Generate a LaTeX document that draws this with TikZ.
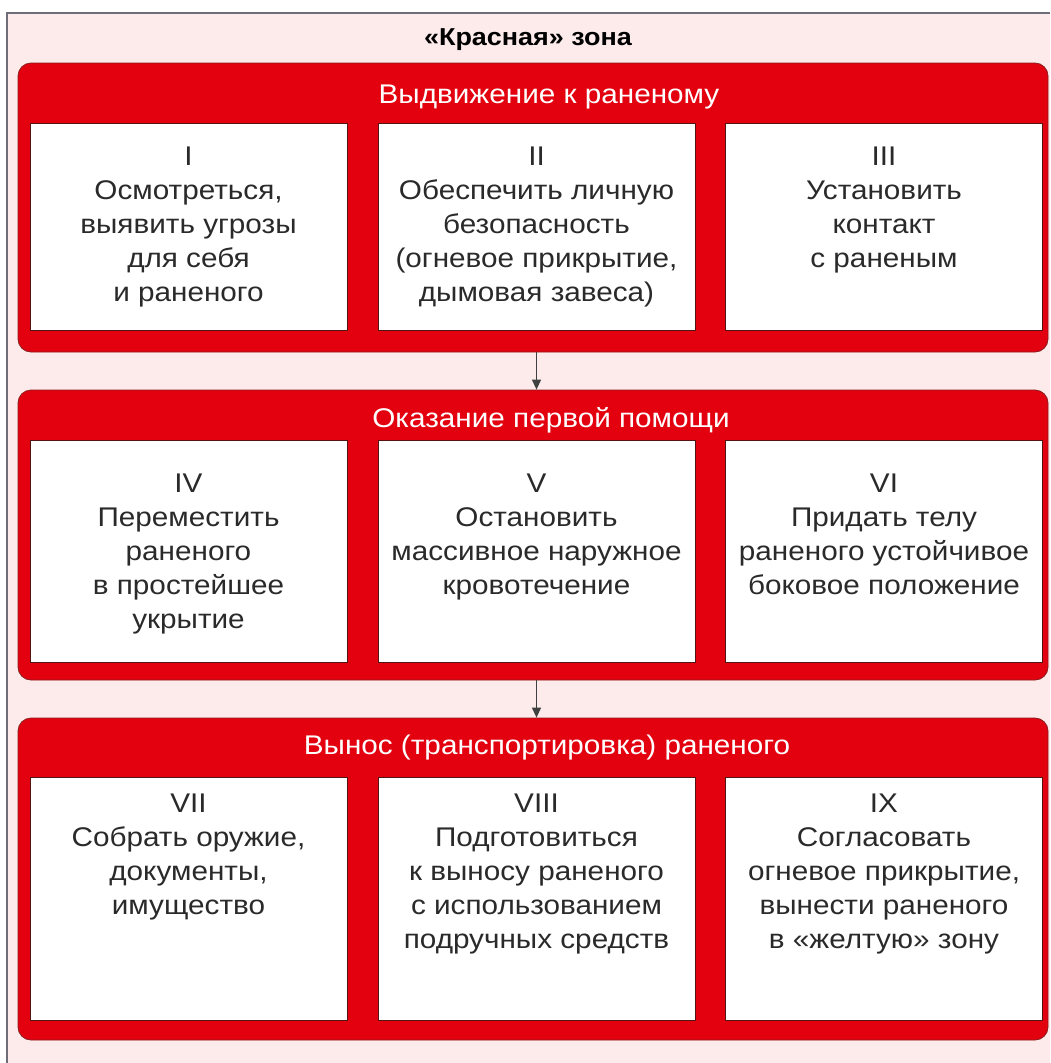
\documentclass[tikz,border=0pt]{standalone}
\usepackage{fontspec}
\setmainfont[FakeStretch=1.1]{Liberation Sans}
\usetikzlibrary{arrows.meta,calc}
\definecolor{zred}{HTML}{E3000F}
\definecolor{zedge}{HTML}{8A1F1F}
\definecolor{zbg}{HTML}{FCEBEA}
\definecolor{zframe}{HTML}{6E6E78}
\definecolor{ztext}{HTML}{2A2A2A}
\newcommand\fstrut{\rule{0pt}{26pt}}
\tikzset{
  grp/.style={draw=zedge, line width=0.8pt, fill=zred, rounded corners=13pt, inner sep=0pt},
  cell/.style={draw=zedge!60!black, line width=0.6pt, fill=white, inner sep=0pt, minimum width=317pt},
  hdr/.style={text=white, font=\fontsize{27}{32}\selectfont, inner sep=0pt},
  body/.style={align=center, font=\fontsize{27}{34}\selectfont, inner sep=0pt, anchor=north, text=ztext},
  link/.style={draw=black!75, line width=1.2pt, -{Triangle[width=9pt,length=10pt]}}
}
\begin{document}
\begin{tikzpicture}[x=1pt,y=-1pt]
\useasboundingbox (0,0) rectangle (1050,1063);
\fill[white] (0,0) rectangle (1050,1063);
\fill[zbg] (7,13) rectangle (1050,1063);
\draw[zframe, line width=1.2pt] (7,1063) -- (7,13) -- (1050,13);

\node[font=\bfseries\fontsize{24.5}{28}\selectfont, inner sep=0pt] (title) at (528,40) {«Красная» зона};

% groups
\node[grp, minimum width=1030pt, minimum height=289pt] (g1) at (533,207.5) {};
\node[grp, minimum width=1030pt, minimum height=290pt] (g2) at (533,535) {};
\node[grp, minimum width=1030pt, minimum height=322pt] (g3) at (533,879) {};

\node[hdr] (h1) at (549,97) {Выдвижение к раненому};
\node[hdr] (h2) at (551,420) {Оказание первой помощи};
\node[hdr] (h3) at (547,748) {Вынос (транспортировка) раненого};

% cells
\node[cell, minimum height=207pt] (b1) at (188.5,226.5) {};
\node[cell, minimum height=207pt] (b2) at (536.5,226.5) {};
\node[cell, minimum height=207pt] (b3) at (884,226.5) {};
\node[cell, minimum height=222pt] (b4) at (188.5,551) {};
\node[cell, minimum height=222pt] (b5) at (536.5,551) {};
\node[cell, minimum height=222pt] (b6) at (884,551) {};
\node[cell, minimum height=243pt] (b7) at (188.5,898.5) {};
\node[cell, minimum height=243pt] (b8) at (536.5,898.5) {};
\node[cell, minimum height=243pt] (b9) at (884,898.5) {};

% texts
\node[body] (t1) at ($(b1.north)+(0,17)$) {\fstrut I\\Осмотреться,\\выявить угрозы\\для себя\\и раненого};
\node[body] (t2) at ($(b2.north)+(0,17)$) {\fstrut II\\Обеспечить личную\\безопасность\\(огневое прикрытие,\\дымовая завеса)};
\node[body] (t3) at ($(b3.north)+(0,17)$) {\fstrut III\\Установить\\контакт\\с раненым};
\node[body] (t4) at ($(b4.north)+(0,27)$) {\fstrut IV\\Переместить\\раненого\\в простейшее\\укрытие};
\node[body] (t5) at ($(b5.north)+(0,27)$) {\fstrut V\\Остановить\\массивное наружное\\кровотечение};
\node[body] (t6) at ($(b6.north)+(0,27)$) {\fstrut VI\\Придать телу\\раненого устойчивое\\боковое положение};
\node[body] (t7) at ($(b7.north)+(0,10)$) {\fstrut VII\\Собрать оружие,\\документы,\\имущество};
\node[body] (t8) at ($(b8.north)+(0,10)$) {\fstrut VIII\\Подготовиться\\к выносу раненого\\с использованием\\подручных средств};
\node[body] (t9) at ($(b9.north)+(0,10)$) {\fstrut IX\\Согласовать\\огневое прикрытие,\\вынести раненого\\в «желтую» зону};

% connectors
\draw[link] (g1.south -| b2.south) -- (g2.north -| b2.north);
\draw[link] (g2.south -| b2.south) -- (g3.north -| b2.north);
\end{tikzpicture}
\end{document}
